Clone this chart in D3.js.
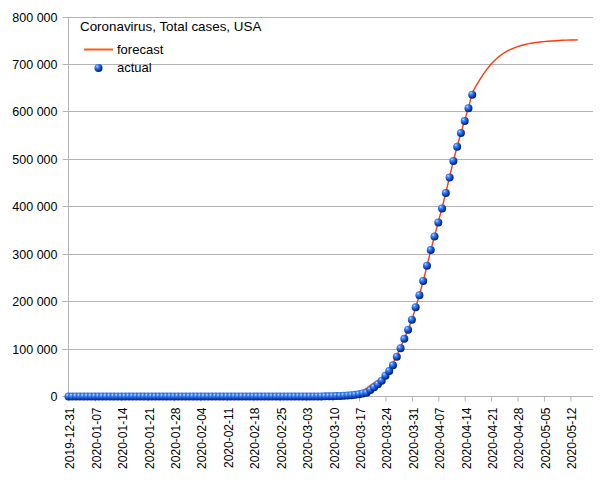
<!DOCTYPE html>
<html>
<head>
<meta charset="utf-8">
<script src="https://cdn.jsdelivr.net/npm/d3@7"></script>
<style>
  html, body { margin: 0; padding: 0; background: #ffffff; }
  svg { display: block; }
  text { font-family: "Liberation Sans", Arial, sans-serif; fill: #000; }
</style>
</head>
<body>
<svg id="chart" width="605" height="480"></svg>
<script>
// ---------------- DATA ----------------
const chartTitle = "Coronavirus, Total cases, USA";
const seriesNames = ["forecast", "actual"];

// x-axis tick labels (weekly)
const tickLabels = ["2019-12-31","2020-01-07","2020-01-14","2020-01-21","2020-01-28","2020-02-04",
  "2020-02-11","2020-02-18","2020-02-25","2020-03-03","2020-03-10","2020-03-17","2020-03-24",
  "2020-03-31","2020-04-07","2020-04-14","2020-04-21","2020-04-28","2020-05-05","2020-05-12"];
const axisStart = "2019-12-31";
const axisEnd = "2020-05-18";

// y-axis ticks
const yTicks = [0,100000,200000,300000,400000,500000,600000,700000,800000];

// actual: one value per day starting at actualStart
const actualStart = "2019-12-31";
const actualValues = [
  0,0,0,0,0,0,0,0,0,0,0,0,0,0,0,0,0,0,0,0,0,0,0,          // 12-31 .. 01-22
  1,1,2,2,5,5,5,5,6,                                       // 01-23 .. 01-31
  7,8,11,11,11,12,12,12,12,12,12,13,13,14,15,15,15,15,15,15,15,35,35,35,53,53,59,60,62, // 02-01 .. 02-29
  68,74,98,118,149,217,262,402,518,583,959,1281,1663,2179,2727,3499,4632,6421,7783,
  13747,19273,25600,33276,43847,53740,65778,83836,101657,121478,140886,161807, // 03-01 .. 03-31
  188172,213372,243453,275586,308850,337072,366667,396223,429052,461437,496535,
  526396,555313,580619,607670,636350                       // 04-01 .. 04-16
];

// forecast: one value per day starting at forecastStart
const forecastStart = "2020-03-01";
const forecastValues = [
  60,90,130,190,280,400,580,830,1100,1400,1800,2300,2900,3600,            // 03-01 .. 03-14
  4500,5800,8000,12000,17500,23500,29000,34000,40000,48000,58000,70000,86000,
  104000,122000,141000,162000,                                            // 03-15 .. 03-31
  187000,214000,243000,275000,308000,338000,368000,398000,430000,463000,497000,
  527000,556000,582000,609000,640000,                                     // 04-01 .. 04-16
  655000,668000,680000,691000,701000,709000,716000,722000,727000,731000,734500,
  737500,740000,742000,                                                   // 04-17 .. 04-30
  743800,745200,746400,747400,748200,748900,749500,750000,750500,750900,751200,
  751400,751600,751700                                                    // 05-01 .. 05-14
];

// ---------------- CHART ----------------
const svg = d3.select("#chart");
const parse = d3.utcParse("%Y-%m-%d");

const x = d3.scaleUtc()
  .domain([parse(axisStart), parse(axisEnd)])
  .range([68.5, 593]);
const y = d3.scaleLinear()
  .domain([0, 800000])
  .range([396.5, 17]);

const actual = actualValues.map((v, i) => ({ date: d3.utcDay.offset(parse(actualStart), i), value: v }));
const forecast = forecastValues.map((v, i) => ({ date: d3.utcDay.offset(parse(forecastStart), i), value: v }));

const gridColor = "#b3b3b3";
const locale = d3.formatLocale({ decimal: ",", thousands: "\u00a0", grouping: [3], currency: ["", ""] });
const fmt = locale.format(",d");

// defs: sphere gradient
const defs = svg.append("defs");
const grad = defs.append("radialGradient")
  .attr("id", "sphere").attr("cx", "38%").attr("cy", "35%").attr("r", "65%")
  .attr("fx", "32%").attr("fy", "28%");
grad.append("stop").attr("offset", "0%").attr("stop-color", "#dbeaff");
grad.append("stop").attr("offset", "22%").attr("stop-color", "#4f95ff");
grad.append("stop").attr("offset", "60%").attr("stop-color", "#1555d8");
grad.append("stop").attr("offset", "100%").attr("stop-color", "#021a70");

// gridlines
const crisp = v => Math.floor(v) + 0.5;
svg.append("g").attr("class", "grid")
  .selectAll("line").data(yTicks).join("line")
  .attr("x1", 68).attr("x2", 593)
  .attr("y1", d => crisp(y(d))).attr("y2", d => crisp(y(d)))
  .attr("stroke", gridColor).attr("stroke-width", 1);

// y axis
const yAxis = d3.axisLeft(y).tickValues(yTicks).tickFormat(fmt).tickSize(6).tickPadding(5);
const gy = svg.append("g").attr("transform", "translate(68.5,0)").call(yAxis);
gy.select(".domain").remove();
gy.selectAll(".tick line").attr("stroke", gridColor);
gy.selectAll(".tick").attr("transform", d => `translate(0,${crisp(y(d))})`);
gy.selectAll(".tick text").attr("font-size", "12.5px").attr("font-family", "Liberation Sans, Arial, sans-serif").attr("fill", "#000");
svg.append("line").attr("x1", 68.5).attr("x2", 68.5).attr("y1", 17).attr("y2", 397)
  .attr("stroke", gridColor);

// x axis
const tickDates = tickLabels.map(parse);
const xAxis = d3.axisBottom(x).tickValues(tickDates).tickFormat(d3.utcFormat("%Y-%m-%d")).tickSize(5).tickPadding(6);
const gx = svg.append("g").attr("transform", `translate(0,${crisp(y(0))})`).call(xAxis);
gx.select(".domain").remove();
gx.selectAll(".tick line").attr("stroke", gridColor);
gx.selectAll(".tick text")
  .attr("font-size", "12px").attr("font-family", "Liberation Sans, Arial, sans-serif").attr("fill", "#000")
  .attr("text-anchor", "end")
  .attr("transform", "rotate(-90)")
  .attr("x", -11).attr("y", 0).attr("dy", "0.45em");

// forecast line
const line = d3.line().x(d => x(d.date)).y(d => y(d.value));
svg.append("path").datum(forecast)
  .attr("d", line).attr("fill", "none")
  .attr("stroke", "#ff3a0a").attr("stroke-width", 1.4).attr("stroke-linejoin", "round");

// actual points
svg.append("g").selectAll("circle").data(actual).join("circle")
  .attr("cx", d => x(d.date)).attr("cy", d => y(d.value)).attr("r", 4)
  .attr("fill", "url(#sphere)");

// title
svg.append("text").attr("x", 80).attr("y", 31).attr("font-size", "13.4px").text(chartTitle);

// legend
svg.append("line").attr("x1", 84).attr("x2", 113).attr("y1", 49.5).attr("y2", 49.5)
  .attr("stroke", "#ff5a1e").attr("stroke-width", 2);
svg.append("text").attr("x", 117).attr("y", 54).attr("font-size", "13px").text(seriesNames[0]);
svg.append("circle").attr("cx", 98.5).attr("cy", 68).attr("r", 4).attr("fill", "url(#sphere)");
svg.append("text").attr("x", 117).attr("y", 72).attr("font-size", "13px").text(seriesNames[1]);
</script>
</body>
</html>
